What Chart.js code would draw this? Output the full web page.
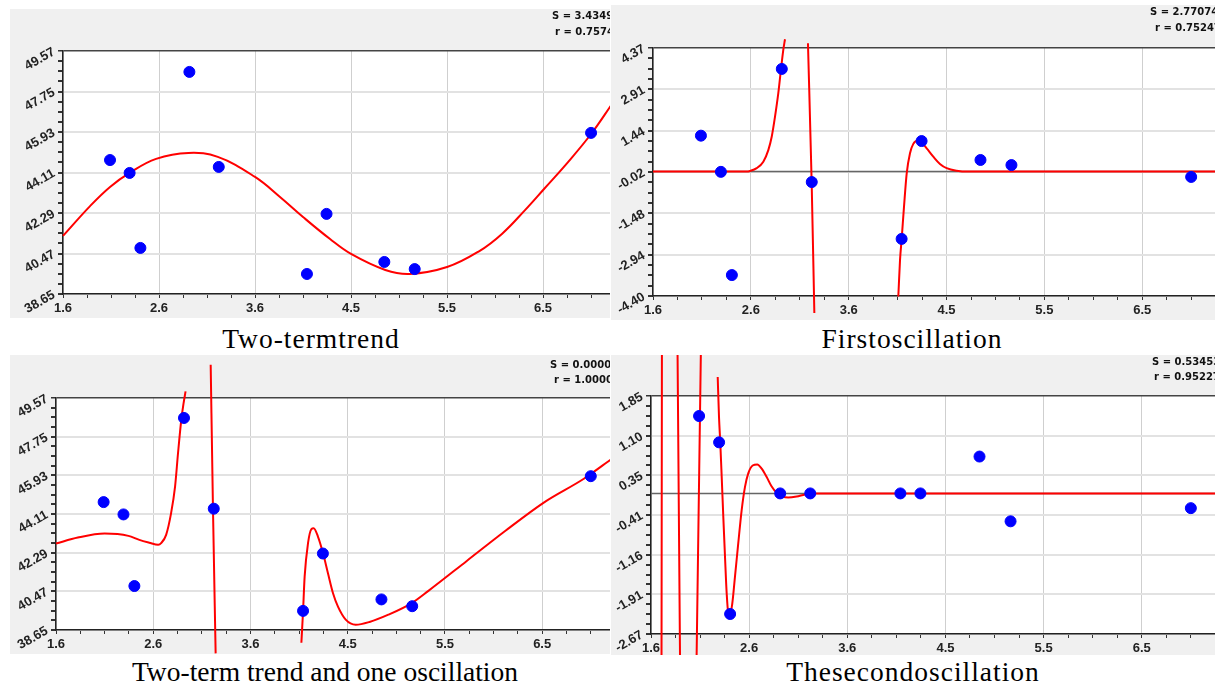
<!DOCTYPE html>
<html>
<head>
<meta charset="utf-8">
<script src="https://cdn.jsdelivr.net/npm/chart.js@4.4.0/dist/chart.umd.min.js"></script>
<style>
  body { margin: 0; background: #fff; width: 1215px; height: 685px; position: relative; overflow: hidden; }
  .panel { position: absolute; background: #f0f0f0; overflow: hidden; }
  .panel canvas { position: absolute; left: 0; top: 0; }
  .stat { position: absolute; font: bold 10px "DejaVu Sans", sans-serif; line-height: 12px; color: #111; white-space: nowrap; }
  .title { position: absolute; width: 460px; text-align: center; font: 27.5px "Liberation Serif", "Times New Roman", serif; line-height: 30px; color: #000; white-space: nowrap; }
  .tight { letter-spacing: 1px; }
</style>
</head>
<body>
<div class="panel" style="left:10px;top:9px;width:600px;height:309px">
  <canvas id="c1" width="690" height="309"></canvas>
  <div class="stat" style="left:542px;top:1px">S = 3.4349</div>
  <div class="stat" style="left:545px;top:17px">r = 0.7574</div>
</div>
<div class="panel" style="left:611px;top:5px;width:604px;height:315px">
  <canvas id="c2" width="690" height="315"></canvas>
  <div class="stat" style="left:539px;top:1px">S = 2.77074</div>
  <div class="stat" style="left:544px;top:17px">r = 0.75247</div>
</div>
<div class="panel" style="left:10px;top:355px;width:600px;height:299px">
  <canvas id="c3" width="690" height="299"></canvas>
  <div class="stat" style="left:540px;top:4px">S = 0.0000</div>
  <div class="stat" style="left:544px;top:19px">r = 1.0000</div>
</div>
<div class="panel" style="left:611px;top:355px;width:604px;height:300px">
  <canvas id="c4" width="690" height="300"></canvas>
  <div class="stat" style="left:541px;top:1px">S = 0.53453</div>
  <div class="stat" style="left:543px;top:16px">r = 0.95227</div>
</div>
<div class="title tight" style="left:81px;top:324px">Two-termtrend</div>
<div class="title tight" style="left:682px;top:324px">Firstoscillation</div>
<div class="title" style="left:95px;top:657px">Two-term trend and one oscillation</div>
<div class="title tight" style="left:683px;top:657px">Thesecondoscillation</div>

<script>
(function () {
    "use strict";

    // ── Axes ───────────────────────────────────────────────────
    const X_MIN = 1.6, X_MAX = 8.0, X_MAJOR = 0.98;
    const xTickLabels = ["1.6", "2.6", "3.6", "4.5", "5.5", "6.5", "7.5"];
    const yTicksLevel = ["38.65", "40.47", "42.29", "44.11", "45.93", "47.75", "49.57"];
    const yTicksOsc1 = ["-4.40", "-2.94", "-1.48", "-0.02", "1.44", "2.91", "4.37"];
    const yTicksOsc2 = ["-2.67", "-1.91", "-1.16", "-0.41", "0.35", "1.10", "1.85"];

    // ── Observations ───────────────────────────────────────────
    const pointX = [2.08, 2.28, 2.39, 2.89, 3.19, 4.09, 4.29, 4.88, 5.19, 6.99];
    const pointY = [44.67, 44.09, 40.72, 48.63, 44.36, 39.55, 42.25, 40.09, 39.77, 45.89];
    const resid1 = [1.27, -0.01, -3.66, 3.63, -0.37, -2.38, 1.08, 0.41, 0.23, -0.19];
    const resid2 = [1.47, 0.97, -2.29, 0, 0, 0, 0, 0.70, -0.53, -0.28];

    // ── Fitted curves (null = break in the line) ───────────────
    const trendX = [1.60, 1.876, 2.08, 2.28, 2.55, 2.88, 3.18, 3.56, 3.815, 4.05, 4.326, 4.54, 4.89, 5.14, 5.52, 5.85, 6.08, 6.316, 6.51, 6.755, 6.99, 7.204];
    const trendY = [41.26, 42.60, 43.46, 44.09, 44.72, 44.99, 44.81, 43.91, 43.01, 42.11, 41.12, 40.45, 39.73, 39.55, 39.86, 40.58, 41.35, 42.42, 43.37, 44.58, 45.84, 47.19];

    const osc1X = [1.60, 2.54, 2.571, 2.639, 2.705, 2.755, 2.789, 2.822, 2.855, 2.882, 2.905, 2.922, 3.03,
        3.152, 3.189, 3.216, 3.6,
        4.057, 4.074, 4.091, 4.114, 4.141, 4.174, 4.207, 4.247, 4.291, 4.341, 4.407, 4.474, 4.541, 4.641, 4.758, 8.0];
    const osc1Y = [0, 0, 0.02, 0.12, 0.35, 0.76, 1.23, 1.94, 2.77, 3.62, 4.30, 4.68, null,
        4.54, -0.36, -5.00, null,
        -4.42, -3.13, -2.36, -1.24, -0.06, 0.65, 0.98, 1.09, 1.02, 0.82, 0.53, 0.27, 0.12, 0.03, 0, 0];

    const fitX = [1.60, 1.82, 2.09, 2.33, 2.44, 2.54, 2.63, 2.66, 2.71, 2.76, 2.80, 2.83, 2.863, 2.886, 2.906, 3.03,
        3.159, 3.182, 3.209, 3.6,
        4.073, 4.089, 4.106, 4.140, 4.174, 4.197, 4.240, 4.291, 4.341, 4.392, 4.442, 4.52, 4.62, 4.76, 4.95, 5.19, 5.35, 5.74, 6.13, 6.52, 6.92, 7.20];
    const fitY = [42.72, 43.00, 43.19, 43.08, 42.89, 42.76, 42.66, 42.74, 43.13, 44.15, 45.40, 46.98, 48.55, 49.33, 49.88, null,
        51.14, 44.39, 37.55, null,
        38.05, 39.44, 41.16, 42.74, 43.40, 43.44, 43.05, 42.27, 41.32, 40.38, 39.75, 39.14, 38.90, 39.03, 39.37, 39.93, 40.48, 41.90, 43.32, 44.66, 45.77, 46.70];

    const osc2X = [1.705, 1.709, 1.80, 1.865, 1.890, 1.97, 2.055, 2.098, 2.18,
        2.266, 2.279, 2.292, 2.306, 2.322, 2.339, 2.356, 2.371, 2.388, 2.411, 2.438, 2.471, 2.505, 2.538, 2.571,
        2.615, 2.661, 2.705, 2.755, 2.805, 2.855, 2.904, 2.970, 3.054, 3.137, 3.220, 8.0];
    const osc2Y = [-3.15, 2.70, null, 2.70, -3.15, null, -3.15, 2.70, null,
        2.21, 1.45, 0.95, 0.31, -0.45, -1.21, -1.91, -2.26, -2.29, -2.10, -1.59, -0.95, -0.32, 0.12, 0.38,
        0.53, 0.55, 0.47, 0.31, 0.13, 0.01, -0.05, -0.08, -0.06, -0.02, 0, 0];

    const xy = (xs, ys) => xs.map((x, i) => ({ x, y: ys[i] }));

    // white plot area on the grey panel
    const plotBackground = {
        id: "plotBackground",
        beforeDraw(chart) {
            const { ctx, chartArea: a } = chart;
            ctx.save();
            ctx.fillStyle = "#fff";
            ctx.fillRect(a.left, a.top, a.right - a.left, a.bottom - a.top);
            ctx.restore();
        },
    };

    const tickFont = { family: "'Liberation Sans', Arial, sans-serif", size: 13, weight: "bold" };

    function panel(canvasId, box, yLabels, points, curveX, curveY, zeroLine, smooth) {
        const canvas = document.getElementById(canvasId);
        const yMin = parseFloat(yLabels[0]);
        const yMax = parseFloat(yLabels[yLabels.length - 1]);
        const yCount = (yLabels.length - 1) * 4;
        const yStep = (yMax - yMin) / yCount;
        const xStep = X_MAJOR / 4;

        const datasets = [
            {
                data: points,
                backgroundColor: "#0000ff",
                borderColor: "#0000ff",
                pointRadius: 5.5,
                pointHoverRadius: 5.5,
                showLine: false,
                order: 0,
            },
            {
                data: xy(curveX, curveY),
                showLine: true,
                borderColor: "#ff0000",
                borderWidth: 2,
                pointRadius: 0,
                tension: 0.4,
                cubicInterpolationMode: smooth ? "default" : "monotone",
                spanGaps: false,
                clip: false,
                order: 1,
            },
        ];
        if (zeroLine) {
            datasets.push({
                data: [{ x: X_MIN, y: 0 }, { x: X_MAX, y: 0 }],
                showLine: true,
                borderColor: "#666",
                borderWidth: 1.5,
                pointRadius: 0,
                order: 2,
            });
        }

        return new Chart(canvas, {
            type: "scatter",
            data: { datasets },
            options: {
                responsive: false,
                animation: false,
                events: [],
                layout: {
                    autoPadding: false,
                    padding: { left: 0, top: box.top, right: canvas.width - box.right, bottom: canvas.height - box.bottom - 22 },
                },
                plugins: { legend: { display: false }, tooltip: { enabled: false } },
                scales: {
                    x: {
                        type: "linear",
                        min: X_MIN,
                        max: X_MAX,
                        afterBuildTicks: (s) => {
                            s.ticks = [];
                            for (let k = 0; X_MIN + k * xStep <= X_MAX + 1e-9; k++) s.ticks.push({ value: X_MIN + k * xStep });
                        },
                        afterFit: (s) => { s.height = 22; },
                        ticks: {
                            autoSkip: false,
                            maxRotation: 0,
                            padding: 3,
                            color: "#222",
                            font: tickFont,
                            callback: (v, i) => (i % 4 === 0 ? xTickLabels[i / 4] || "" : ""),
                        },
                        grid: {
                            color: (c) => (c.index % 4 === 0 ? "#cfcfcf" : "rgba(0,0,0,0)"),
                            tickColor: "#333",
                            tickLength: 4,
                        },
                        border: { display: true, color: "#222", width: 1.5 },
                    },
                    y: {
                        type: "linear",
                        min: yMin,
                        max: yMax,
                        afterBuildTicks: (s) => {
                            s.ticks = [];
                            for (let k = 0; k <= yCount; k++) s.ticks.push({ value: yMin + k * yStep });
                        },
                        afterFit: (s) => { s.width = box.left; },
                        ticks: {
                            autoSkip: false,
                            minRotation: 30,
                            maxRotation: 30,
                            padding: 4,
                            color: "#222",
                            font: tickFont,
                            callback: (v, i) => (i % 4 === 0 ? yLabels[i / 4] : ""),
                        },
                        grid: {
                            color: (c) => (c.index === yCount ? "#444" : c.index % 4 === 0 ? "#e2e2e2" : "rgba(0,0,0,0)"),
                            lineWidth: (c) => (c.index === yCount ? 1.5 : 2),
                            tickColor: "#333",
                            tickLength: 5,
                        },
                        border: { display: true, color: "#222", width: 1.5 },
                    },
                },
            },
            plugins: [plotBackground],
        });
    }

    panel("c1", { left: 53, top: 42, bottom: 285, right: 680 }, yTicksLevel, xy(pointX, pointY), trendX, trendY, false, true);
    panel("c2", { left: 42, top: 43, bottom: 291, right: 681 }, yTicksOsc1, xy(pointX, resid1), osc1X, osc1Y, true, false);
    panel("c3", { left: 46, top: 43, bottom: 275, right: 681 }, yTicksLevel, xy(pointX, pointY), fitX, fitY, false, false);
    panel("c4", { left: 40, top: 41, bottom: 279, right: 681 }, yTicksOsc2, xy(pointX, resid2), osc2X, osc2Y, true, false);
})();
</script>
</body>
</html>
